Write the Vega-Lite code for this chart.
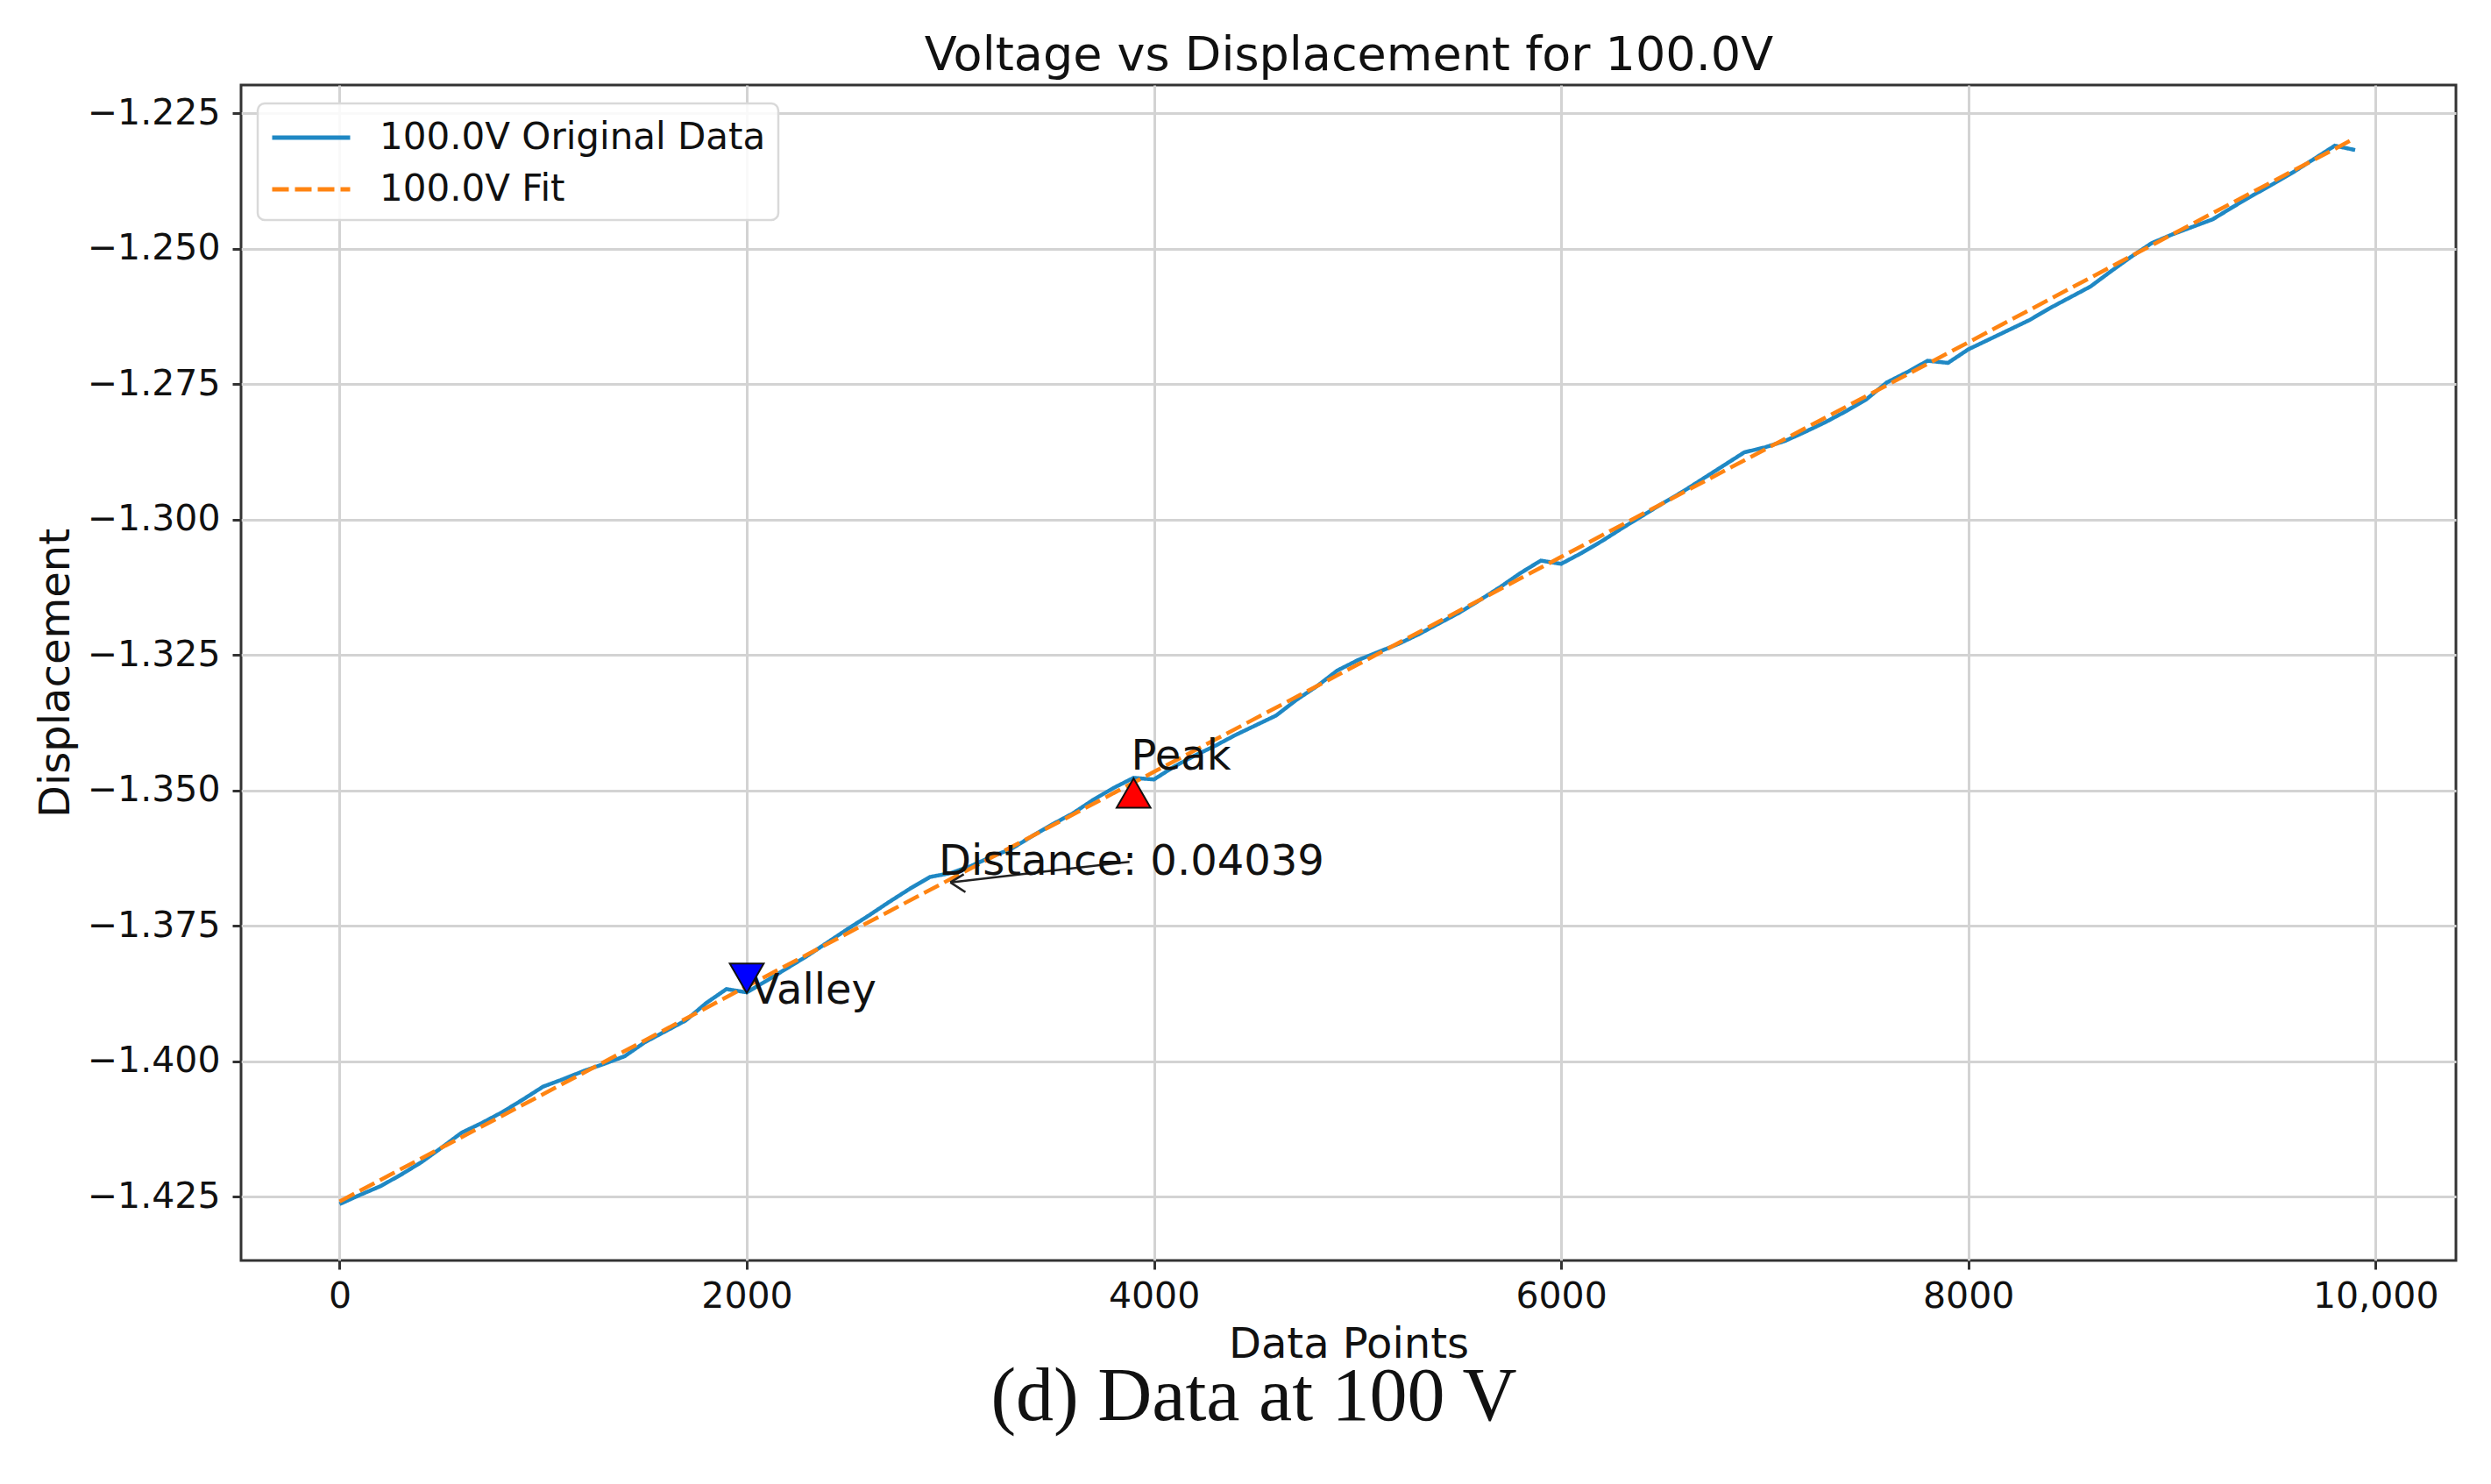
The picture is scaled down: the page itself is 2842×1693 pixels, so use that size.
{
  "$schema": "https://vega.github.io/schema/vega-lite/v6.json",
  "autosize": {"type": "none"},
  "padding": {"left": 275, "top": 97, "right": 40, "bottom": 255},
  "width": 2527,
  "height": 1341,
  "background": "white",
  "title": {
    "text": "(d) Data at 100 V",
    "orient": "bottom",
    "anchor": "middle",
    "frame": "group",
    "font": "Liberation Serif",
    "fontSize": 86,
    "fontWeight": "normal",
    "color": "#111111",
    "baseline": "top",
    "dx": -108,
    "offset": -6
  },
  "config": {
    "view": {"stroke": "#333333", "strokeWidth": 3},
    "font": "DejaVu Sans",
    "axis": {
      "grid": true,
      "gridColor": "#d3d3d3",
      "gridWidth": 3,
      "domain": false,
      "tickColor": "#333333",
      "tickWidth": 3,
      "tickSize": 10,
      "labelFont": "DejaVu Sans",
      "labelFontSize": 41,
      "labelColor": "#111111",
      "labelFlush": false,
      "labelOverlap": false,
      "titleFont": "DejaVu Sans",
      "titleFontSize": 48,
      "titleFontWeight": "normal",
      "titleColor": "#111111"
    },
    "legend": {
      "orient": "none",
      "legendX": 19,
      "legendY": 21,
      "padding": 14,
      "fillColor": "rgba(255,255,255,0.85)",
      "strokeColor": "#d9d9d9",
      "strokeWidth": 2.5,
      "cornerRadius": 8,
      "symbolType": "M-2,0H2",
      "symbolSize": 1980,
      "symbolOffset": 22,
      "symbolStrokeWidth": 5,
      "labelFont": "DejaVu Sans",
      "labelFontSize": 42,
      "labelColor": "#111111",
      "labelOffset": 53,
      "rowPadding": 13,
      "labelLimit": 0
    }
  },
  "datasets": {
    "original": [
      {"x": 0, "y": -1.4264}, {"x": 100, "y": -1.4247}, {"x": 200, "y": -1.4231}, {"x": 300, "y": -1.421},
      {"x": 400, "y": -1.4187}, {"x": 500, "y": -1.416}, {"x": 600, "y": -1.4132}, {"x": 700, "y": -1.4114},
      {"x": 800, "y": -1.4094}, {"x": 900, "y": -1.4071}, {"x": 1000, "y": -1.4047}, {"x": 1100, "y": -1.4033},
      {"x": 1200, "y": -1.4018}, {"x": 1300, "y": -1.4005}, {"x": 1400, "y": -1.3991}, {"x": 1500, "y": -1.3965},
      {"x": 1600, "y": -1.3945}, {"x": 1700, "y": -1.3925}, {"x": 1800, "y": -1.3893}, {"x": 1900, "y": -1.3867},
      {"x": 2000, "y": -1.3873}, {"x": 2100, "y": -1.3851}, {"x": 2200, "y": -1.3828}, {"x": 2300, "y": -1.3805},
      {"x": 2400, "y": -1.378}, {"x": 2500, "y": -1.3755}, {"x": 2600, "y": -1.3731}, {"x": 2700, "y": -1.3706},
      {"x": 2800, "y": -1.3682}, {"x": 2900, "y": -1.366}, {"x": 3000, "y": -1.3653}, {"x": 3100, "y": -1.364},
      {"x": 3200, "y": -1.3623}, {"x": 3300, "y": -1.3608}, {"x": 3400, "y": -1.3585}, {"x": 3500, "y": -1.3563},
      {"x": 3600, "y": -1.3543}, {"x": 3700, "y": -1.3518}, {"x": 3800, "y": -1.3496}, {"x": 3900, "y": -1.3477},
      {"x": 4000, "y": -1.348}, {"x": 4100, "y": -1.3456}, {"x": 4200, "y": -1.3436}, {"x": 4300, "y": -1.3418},
      {"x": 4400, "y": -1.3398}, {"x": 4500, "y": -1.338}, {"x": 4600, "y": -1.3362}, {"x": 4700, "y": -1.3333},
      {"x": 4800, "y": -1.3308}, {"x": 4900, "y": -1.3279}, {"x": 5000, "y": -1.326}, {"x": 5100, "y": -1.3245},
      {"x": 5200, "y": -1.323}, {"x": 5300, "y": -1.3212}, {"x": 5400, "y": -1.3192}, {"x": 5500, "y": -1.3172},
      {"x": 5600, "y": -1.3149}, {"x": 5700, "y": -1.3125}, {"x": 5800, "y": -1.3099}, {"x": 5900, "y": -1.3076},
      {"x": 6000, "y": -1.3082}, {"x": 6100, "y": -1.3062}, {"x": 6200, "y": -1.304}, {"x": 6300, "y": -1.3016},
      {"x": 6400, "y": -1.2993}, {"x": 6500, "y": -1.297}, {"x": 6600, "y": -1.2948}, {"x": 6700, "y": -1.2924},
      {"x": 6800, "y": -1.29}, {"x": 6900, "y": -1.2876}, {"x": 7000, "y": -1.2867}, {"x": 7100, "y": -1.2855},
      {"x": 7200, "y": -1.2838}, {"x": 7300, "y": -1.282}, {"x": 7400, "y": -1.28}, {"x": 7500, "y": -1.2778},
      {"x": 7600, "y": -1.2747}, {"x": 7700, "y": -1.2728}, {"x": 7800, "y": -1.2707}, {"x": 7900, "y": -1.2711},
      {"x": 8000, "y": -1.2686}, {"x": 8100, "y": -1.2668}, {"x": 8200, "y": -1.265}, {"x": 8300, "y": -1.2632},
      {"x": 8400, "y": -1.261}, {"x": 8500, "y": -1.259}, {"x": 8600, "y": -1.257}, {"x": 8700, "y": -1.2542},
      {"x": 8800, "y": -1.2515}, {"x": 8900, "y": -1.249}, {"x": 9000, "y": -1.2474}, {"x": 9100, "y": -1.246},
      {"x": 9200, "y": -1.2446}, {"x": 9300, "y": -1.2423}, {"x": 9400, "y": -1.2401}, {"x": 9500, "y": -1.238},
      {"x": 9600, "y": -1.2358}, {"x": 9700, "y": -1.2334}, {"x": 9800, "y": -1.231}, {"x": 9900, "y": -1.2318}
    ],
    "fit": [
      {"x": 0, "y": -1.4259}, {"x": 1000, "y": -1.4061}, {"x": 2000, "y": -1.3862}, {"x": 3000, "y": -1.3664},
      {"x": 4000, "y": -1.3466}, {"x": 5000, "y": -1.3268}, {"x": 6000, "y": -1.3069}, {"x": 7000, "y": -1.2871},
      {"x": 8000, "y": -1.2673}, {"x": 9000, "y": -1.2474}, {"x": 9900, "y": -1.2296}
    ],
    "arrow": [
      {"x": 3880, "y": -1.3632, "x2": 3000, "y2": -1.367},
      {"x": 3000, "y": -1.367, "x2": 3066, "y2": -1.3655},
      {"x": 3000, "y": -1.367, "x2": 3074, "y2": -1.3688}
    ],
    "notes": [
      {"x": 3888, "y": -1.3462, "label": "Peak"},
      {"x": 2021, "y": -1.3894, "label": "Valley"},
      {"x": 2943, "y": -1.3656, "label": "Distance: 0.04039"}
    ],
    "markers": [
      {"x": 3900, "y": -1.3505, "kind": "Peak"},
      {"x": 2000, "y": -1.3847, "kind": "Valley"}
    ]
  },
  "layer": [
    {
      "encoding": {
        "x": {
          "field": "x",
          "type": "quantitative",
          "scale": {"domain": [-484, 10395], "nice": false, "zero": false},
          "axis": {
            "title": "Data Points",
            "values": [0, 2000, 4000, 6000, 8000, 10000],
            "labelExpr": "datum.value == 10000 ? '10,000' : format(datum.value, 'd')",
            "labelPadding": 11,
            "titleBaseline": "alphabetic",
            "titleY": 110
          }
        },
        "y": {
          "field": "y",
          "type": "quantitative",
          "scale": {"domain": [-1.4368, -1.2198], "nice": false, "zero": false},
          "axis": {
            "title": "Displacement",
            "values": [-1.425, -1.4, -1.375, -1.35, -1.325, -1.3, -1.275, -1.25, -1.225],
            "format": ".3f",
            "labelPadding": 14,
            "titleBaseline": "alphabetic",
            "titleX": -197
          }
        }
      },
      "layer": [
        {
          "data": {"name": "original"},
          "mark": {"type": "line", "strokeWidth": 4.5},
          "encoding": {
            "color": {
              "datum": "100.0V Original Data",
              "scale": {"domain": ["100.0V Original Data", "100.0V Fit"], "range": ["#1f88c4", "#ff8412"]},
              "legend": {"title": null}
            },
            "strokeDash": {
              "datum": "100.0V Original Data",
              "scale": {"domain": ["100.0V Original Data", "100.0V Fit"], "range": [[1, 0], [19, 7]]},
              "legend": {"title": null}
            }
          }
        },
        {
          "data": {"name": "fit"},
          "mark": {"type": "line", "strokeWidth": 4.5},
          "encoding": {
            "color": {"datum": "100.0V Fit"},
            "strokeDash": {"datum": "100.0V Fit"}
          }
        },
        {
          "data": {"name": "arrow"},
          "mark": {"type": "rule", "color": "#222222", "strokeWidth": 2.5},
          "encoding": {
            "x2": {"field": "x2"},
            "y2": {"field": "y2"}
          }
        },
        {
          "data": {"name": "notes"},
          "mark": {"type": "text", "align": "left", "baseline": "alphabetic", "font": "DejaVu Sans", "fontSize": 48, "color": "#111111"},
          "encoding": {
            "text": {"field": "label"}
          }
        }
      ]
    },
    {
      "data": {"name": "markers"},
      "mark": {"type": "point", "filled": true, "size": 1500, "stroke": "#111111", "strokeWidth": 2, "opacity": 1},
      "encoding": {
        "x": {
          "field": "x",
          "type": "quantitative",
          "scale": {"domain": [-484, 10395], "nice": false, "zero": false},
          "axis": {
            "orient": "top",
            "title": "Voltage vs Displacement for 100.0V",
            "grid": false,
            "ticks": false,
            "labels": false,
            "domain": false,
            "titleFontSize": 54,
            "titleBaseline": "alphabetic",
            "titleY": -18
          }
        },
        "y": {
          "field": "y",
          "type": "quantitative",
          "title": "Displacement"
        },
        "fill": {
          "field": "kind",
          "type": "nominal",
          "scale": {"domain": ["Peak", "Valley"], "range": ["#ff0000", "#0000ff"]},
          "legend": null
        },
        "shape": {
          "field": "kind",
          "type": "nominal",
          "scale": {"domain": ["Peak", "Valley"], "range": ["triangle-up", "triangle-down"]},
          "legend": null
        }
      }
    }
  ],
  "resolve": {"scale": {"x": "independent"}, "axis": {"x": "independent"}}
}
